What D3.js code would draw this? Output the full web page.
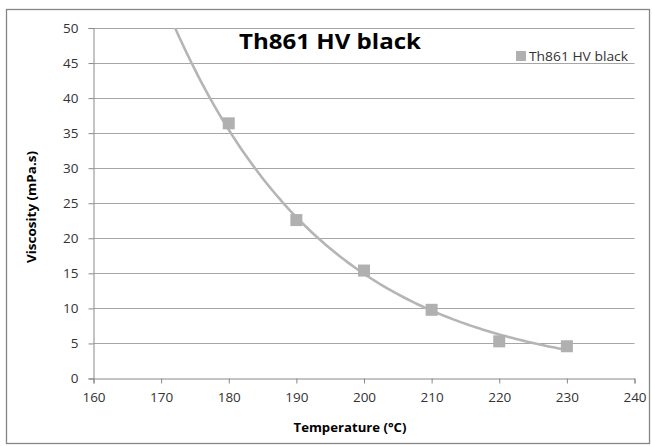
<!DOCTYPE html>
<html><head><meta charset="utf-8">
<script src="https://cdn.jsdelivr.net/npm/d3@7"></script>
<style>body{margin:0;background:#fff}svg{display:block}text{font-family:"Open Sans",Lato,sans-serif}</style>
</head><body><svg id="c" width="652" height="446"></svg>
<script>
const temperatures = [180, 190, 200, 210, 220, 230];
const viscosity = [36.4, 22.6, 15.4, 9.8, 5.3, 4.6];
const xTicks = [160, 170, 180, 190, 200, 210, 220, 230, 240];
const yTicks = [0, 5, 10, 15, 20, 25, 30, 35, 40, 45, 50];
const seriesName = "Th861 HV black";
const titleText = "Th861 HV black";
const xTitle = "Temperature (°C)";
const yTitle = "Viscosity (mPa.s)";

const svg = d3.select("#c");
const m = {l: 93.5, r: 634.5, t: 28, b: 378.5};
const x = d3.scaleLinear().domain([160, 240]).range([m.l, m.r]);
const y = d3.scaleLinear().domain([0, 50]).range([m.b, m.t]);

svg.append("rect").attr("x", 6.5).attr("y", 9.5).attr("width", 643).attr("height", 434)
  .attr("fill", "#fff").attr("stroke", "#868686").attr("stroke-width", 1.3);

// gridlines
svg.append("g").selectAll("line").data(yTicks.filter(d => d > 0)).join("line")
  .attr("x1", m.l).attr("x2", m.r).attr("y1", d => Math.round(y(d)) + 0.5).attr("y2", d => Math.round(y(d)) + 0.5)
  .attr("stroke", "#a6a6a6").attr("stroke-width", 1);

// axes
const ya = svg.append("g").attr("transform", `translate(${m.l},0)`)
  .call(d3.axisLeft(y).tickValues(yTicks).tickSize(5).tickPadding(10));
const xa = svg.append("g").attr("transform", `translate(0,${m.b})`)
  .call(d3.axisBottom(x).tickValues(xTicks).tickSize(5).tickPadding(9));
[ya, xa].forEach(g => {
  g.select(".domain").attr("stroke", "#888");
  g.selectAll(".tick line").attr("stroke", "#888");
  g.selectAll(".tick text").attr("fill", "#333").attr("font-size", 13.5);
});

// exponential trendline (least squares on ln y), clipped to plot area
const mx = d3.mean(temperatures), ml = d3.mean(viscosity, v => Math.log(v));
const b = d3.sum(temperatures, (t, i) => (t - mx) * (Math.log(viscosity[i]) - ml)) / d3.sum(temperatures, t => (t - mx) ** 2);
const a = ml - b * mx;
const trendX = d3.range(160, 230.01, 0.5);
svg.append("clipPath").attr("id", "pc").append("rect").attr("x", m.l).attr("y", m.t).attr("width", m.r - m.l).attr("height", m.b - m.t);
svg.append("path").attr("clip-path", "url(#pc)")
  .datum(trendX)
  .attr("d", d3.line().x(d => x(d)).y(d => y(Math.exp(a + b * d))))
  .attr("fill", "none").attr("stroke", "#b5b5b5").attr("stroke-width", 2.6);

// markers
const s = 12;
svg.append("g").selectAll("rect").data(temperatures).join("rect")
  .attr("x", d => x(d) - s / 2).attr("y", (d, i) => y(viscosity[i]) - s / 2)
  .attr("width", s).attr("height", s).attr("fill", "#b0b0b0");

// title
svg.append("text").attr("x", 330).attr("y", 49).attr("text-anchor", "middle")
  .attr("font-size", 22).attr("font-weight", "bold").attr("fill", "#000")
  .attr("textLength", 182).attr("lengthAdjust", "spacingAndGlyphs").text(titleText);

// legend
svg.append("rect").attr("x", 516).attr("y", 51).attr("width", 10).attr("height", 10).attr("fill", "#b0b0b0");
svg.append("text").attr("x", 529).attr("y", 60.5).attr("font-size", 12.5).attr("fill", "#333")
  .attr("textLength", 99).attr("lengthAdjust", "spacingAndGlyphs").text(seriesName);

// axis titles
svg.append("text").attr("x", 350).attr("y", 432).attr("text-anchor", "middle")
  .attr("font-size", 12.5).attr("font-weight", "bold").attr("fill", "#000")
  .attr("textLength", 113).attr("lengthAdjust", "spacingAndGlyphs").text(xTitle);
svg.append("text").attr("transform", "translate(36,207) rotate(-90)").attr("text-anchor", "middle")
  .attr("font-size", 12.5).attr("font-weight", "bold").attr("fill", "#000")
  .attr("textLength", 112).attr("lengthAdjust", "spacingAndGlyphs").text(yTitle);
</script></body></html>
